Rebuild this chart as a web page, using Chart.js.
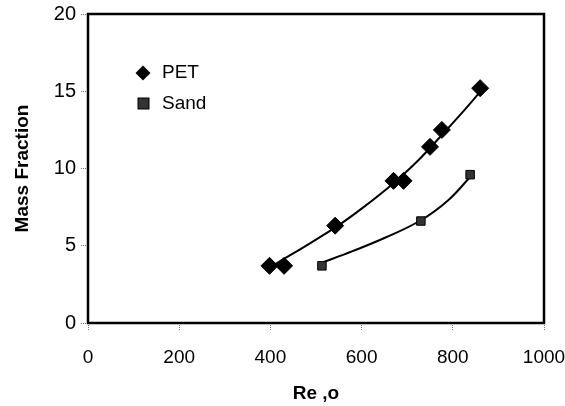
<!DOCTYPE html>
<html>
<head>
<meta charset="utf-8">
<script src="https://cdn.jsdelivr.net/npm/chart.js@4.4.1/dist/chart.umd.min.js"></script>
<style>
html,body{margin:0;padding:0;background:#fff;}
#wrap{width:565px;height:406px;}
</style>
</head>
<body>
<div id="wrap"><canvas id="c" width="565" height="406"></canvas></div>
<script>
// Data
const petRe   = [398, 430, 542, 670, 692, 750, 776, 860];
const petMass = [3.7, 3.7, 6.3, 9.2, 9.2, 11.4, 12.5, 15.2];
const sandRe   = [513, 730, 838];
const sandMass = [3.7, 6.6, 9.6];
// Trend curves
const petTrendRe   = [398, 450, 500, 546, 600, 668, 720, 777, 820, 858];
const petTrendMass = [3.6, 4.5, 5.4, 6.25, 7.4, 9.0, 10.4, 12.2, 13.6, 14.9];
const sandTrendRe   = [513, 580, 650, 730, 790, 838];
const sandTrendMass = [3.9, 4.65, 5.5, 6.65, 7.95, 9.45];
const xTicks = [0, 200, 400, 600, 800, 1000];
const yTicks = [0, 5, 10, 15, 20];

const toXY = (xs, ys) => xs.map((x, i) => ({x, y: ys[i]}));
const FONT = '"Liberation Sans", Arial, sans-serif';

const frame = {
  id: 'frame',
  afterDatasetsDraw(chart) {
    const a = chart.chartArea, ctx = chart.ctx;
    ctx.save();
    ctx.strokeStyle = '#000';
    ctx.lineWidth = 2.5;
    ctx.strokeRect(a.left, a.top, a.right - a.left, a.bottom - a.top);
    ctx.restore();
  },
  afterDraw(chart) {
    const ctx = chart.ctx;
    ctx.save();
    ctx.font = '19px ' + FONT;
    ctx.fillStyle = '#000';
    ctx.textBaseline = 'middle';
    // PET legend
    ctx.beginPath();
    const cx = 143, cy = 73, r = 7.5;
    ctx.moveTo(cx, cy - r); ctx.lineTo(cx + r, cy); ctx.lineTo(cx, cy + r); ctx.lineTo(cx - r, cy); ctx.closePath();
    ctx.fill();
    ctx.fillText('PET', 162, 73);
    // Sand legend
    ctx.fillStyle = '#333';
    ctx.fillRect(138, 98, 11, 11);
    ctx.strokeStyle = '#000'; ctx.lineWidth = 1;
    ctx.strokeRect(138, 98, 11, 11);
    ctx.fillStyle = '#000';
    ctx.fillText('Sand', 162, 104);
    ctx.restore();
  }
};

new Chart(document.getElementById('c'), {
  type: 'scatter',
  data: {
    datasets: [
      { label: 'PET', data: toXY(petRe, petMass), pointStyle: 'rectRot', pointRadius: 8.5,
        backgroundColor: '#000', borderColor: '#000', borderWidth: 1, showLine: false, order: 1 },
      { label: 'Sand', data: toXY(sandRe, sandMass), pointStyle: 'rect', pointRadius: 6,
        backgroundColor: '#333', borderColor: '#000', borderWidth: 1, showLine: false, order: 1 },
      { label: 'PET trend', data: toXY(petTrendRe, petTrendMass), showLine: true, pointRadius: 0,
        borderColor: '#000', borderWidth: 2, cubicInterpolationMode: 'monotone', fill: false, order: 2 },
      { label: 'Sand trend', data: toXY(sandTrendRe, sandTrendMass), showLine: true, pointRadius: 0,
        borderColor: '#000', borderWidth: 2, tension: 0.4, fill: false, order: 2 }
    ]
  },
  options: {
    responsive: false,
    animation: false,
    layout: { padding: { top: 14, right: 0, left: 0, bottom: 0 } },
    plugins: { legend: { display: false }, tooltip: { enabled: false } },
    scales: {
      x: {
        type: 'linear', min: 0, max: 1000,
        afterBuildTicks(s) { s.ticks = xTicks.map(v => ({value: v})); },
        afterFit(s) { s.height = 83; s.paddingRight = 21; s.paddingLeft = 0; },
        border: { display: false },
        grid: { drawOnChartArea: false, tickLength: 7, tickColor: '#777', tickBorderDash: [1, 1], tickWidth: 1 },
        ticks: { color: '#000', padding: 16, maxRotation: 0, callback: v => String(v),
          font: { family: FONT, size: 19 } },
        title: { display: true, text: 'Re ,o', color: '#000', padding: { top: 0, bottom: 1 },
          font: { family: FONT, size: 19, weight: 'bold' } }
      },
      y: {
        type: 'linear', min: 0, max: 20,
        afterBuildTicks(s) { s.ticks = yTicks.map(v => ({value: v})); },
        afterFit(s) { s.width = 88; s.paddingTop = 0; s.paddingBottom = 0; },
        border: { display: false },
        grid: { drawOnChartArea: false, tickLength: 7, tickColor: '#777', tickBorderDash: [1, 1], tickWidth: 1 },
        ticks: { color: '#000', padding: 5, callback: v => String(v), font: { family: FONT, size: 20 } },
        title: { display: true, text: 'Mass Fraction', color: '#000', padding: { top: 11, bottom: 0 },
          font: { family: FONT, size: 19, weight: 'bold' } }
      }
    }
  },
  plugins: [frame]
});
</script>
</body>
</html>
